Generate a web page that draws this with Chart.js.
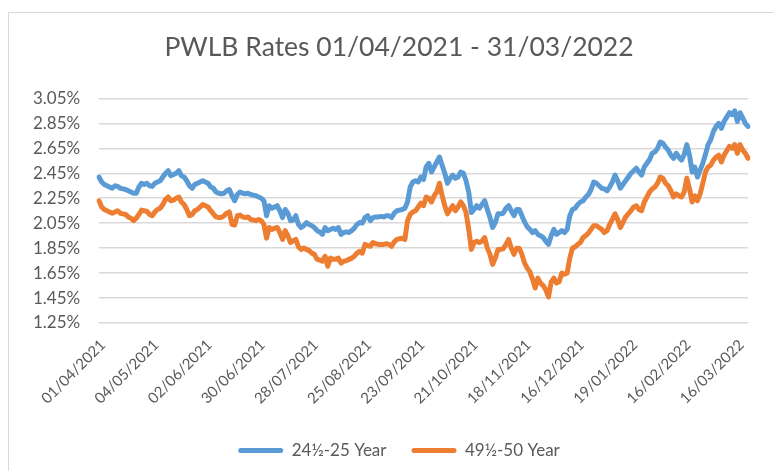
<!DOCTYPE html>
<html>
<head>
<meta charset="utf-8">
<script src="https://cdn.jsdelivr.net/npm/chart.js@4.4.1/dist/chart.umd.min.js"></script>
<style>
  html, body { margin: 0; padding: 0; background: #ffffff; }
  #wrap { position: relative; width: 774px; height: 471px; overflow: hidden; font-family: Lato; }
  #frame { position: absolute; left: 8px; top: 12px; width: 800px; height: 500px; border: 1.5px solid #d9d9d9; box-sizing: border-box; }
  #c { position: absolute; left: 0; top: 0; }
</style>
</head>
<body>
<div id="wrap">
  <div id="frame"></div>
  <canvas id="c" width="774" height="471"></canvas>
</div>
<script>
const chartTitle = 'PWLB Rates 01/04/2021 - 31/03/2022';
const seriesNames = ['24½-25 Year', '49½-50 Year'];
const tickLabels = ['01/04/2021','04/05/2021','02/06/2021','30/06/2021','28/07/2021','25/08/2021','23/09/2021','21/10/2021','18/11/2021','16/12/2021','19/01/2022','16/02/2022','16/03/2022'];
const tickEvery = 20;
const yTicks = [1.25, 1.45, 1.65, 1.85, 2.05, 2.25, 2.45, 2.65, 2.85, 3.05];

const rates25 = [
2.42,2.38,2.36,2.35,2.34,2.33,2.35,2.345,2.33,2.325,
2.32,2.31,2.30,2.29,2.29,2.34,2.37,2.36,2.37,2.35,
2.345,2.37,2.38,2.39,2.42,2.45,2.47,2.43,2.44,2.45,
2.47,2.43,2.42,2.39,2.35,2.33,2.36,2.37,2.38,2.39,
2.38,2.37,2.34,2.33,2.30,2.29,2.285,2.29,2.31,2.32,
2.27,2.23,2.28,2.30,2.29,2.285,2.29,2.28,2.275,2.27,
2.26,2.25,2.23,2.11,2.19,2.17,2.18,2.19,2.15,2.095,
2.16,2.13,2.07,2.075,2.11,2.04,2.015,2.03,2.055,2.04,
2.03,2.015,1.99,1.98,1.96,2.015,1.99,2.00,2.01,2.00,
2.015,1.96,1.975,1.98,1.975,1.99,2.01,2.04,2.055,2.05,
2.095,2.11,2.07,2.095,2.10,2.10,2.105,2.10,2.11,2.11,
2.095,2.13,2.15,2.155,2.16,2.17,2.22,2.34,2.38,2.39,
2.38,2.42,2.40,2.50,2.53,2.46,2.50,2.54,2.58,2.515,
2.45,2.37,2.41,2.435,2.41,2.42,2.46,2.45,2.39,2.30,
2.135,2.16,2.19,2.17,2.20,2.23,2.16,2.095,2.015,2.055,
2.125,2.125,2.13,2.17,2.19,2.15,2.11,2.16,2.16,2.11,
2.06,2.02,2.00,1.975,1.99,1.96,1.95,1.935,1.905,1.88,
1.95,2.00,1.96,1.975,1.99,1.975,2.00,2.11,2.16,2.17,
2.20,2.22,2.23,2.26,2.28,2.32,2.38,2.37,2.35,2.33,
2.325,2.31,2.34,2.38,2.435,2.39,2.33,2.36,2.39,2.42,
2.45,2.47,2.49,2.46,2.435,2.50,2.53,2.56,2.61,2.62,
2.65,2.70,2.69,2.66,2.635,2.595,2.57,2.61,2.58,2.555,
2.60,2.68,2.595,2.46,2.50,2.42,2.475,2.53,2.60,2.68,
2.72,2.785,2.825,2.85,2.81,2.865,2.90,2.935,2.92,2.95,
2.865,2.935,2.895,2.85,2.825
];

const rates50 = [
2.23,2.18,2.16,2.15,2.14,2.13,2.14,2.15,2.13,2.125,
2.12,2.10,2.09,2.07,2.09,2.12,2.155,2.15,2.145,2.12,
2.11,2.14,2.16,2.17,2.20,2.24,2.26,2.23,2.235,2.25,
2.26,2.22,2.20,2.16,2.11,2.12,2.15,2.16,2.18,2.20,
2.19,2.18,2.15,2.125,2.10,2.095,2.095,2.11,2.13,2.14,
2.04,2.035,2.11,2.115,2.10,2.095,2.10,2.08,2.075,2.07,
2.08,2.07,2.04,1.93,2.015,2.00,2.01,2.015,1.975,1.92,
1.99,1.95,1.895,1.91,1.92,1.86,1.84,1.85,1.84,1.83,
1.81,1.80,1.76,1.755,1.745,1.785,1.705,1.77,1.76,1.76,
1.77,1.73,1.745,1.75,1.76,1.77,1.785,1.81,1.825,1.81,
1.88,1.87,1.865,1.895,1.885,1.88,1.88,1.88,1.885,1.88,
1.865,1.90,1.92,1.925,1.93,1.92,2.07,2.12,2.14,2.15,
2.18,2.21,2.19,2.26,2.25,2.22,2.27,2.30,2.37,2.27,
2.19,2.125,2.16,2.19,2.15,2.18,2.22,2.19,2.135,2.00,
1.84,1.895,1.905,1.895,1.905,1.935,1.85,1.80,1.72,1.77,
1.84,1.84,1.845,1.88,1.92,1.85,1.80,1.85,1.85,1.80,
1.73,1.69,1.66,1.60,1.53,1.61,1.57,1.55,1.515,1.46,
1.58,1.61,1.57,1.58,1.65,1.64,1.65,1.77,1.85,1.86,
1.88,1.895,1.935,1.95,1.97,2.00,2.03,2.03,2.015,2.00,
1.975,1.99,2.04,2.08,2.125,2.08,2.015,2.055,2.10,2.125,
2.15,2.18,2.19,2.16,2.15,2.22,2.26,2.30,2.325,2.34,
2.37,2.42,2.41,2.37,2.35,2.31,2.26,2.285,2.27,2.26,
2.30,2.41,2.325,2.22,2.27,2.23,2.285,2.37,2.46,2.50,
2.515,2.555,2.58,2.595,2.54,2.595,2.63,2.665,2.65,2.68,
2.61,2.68,2.635,2.61,2.57
];

const categories = rates25.map((v, i) => (i % tickEvery === 0 && tickLabels[i / tickEvery]) ? tickLabels[i / tickEvery] : '');

const FONT = 'Lato';
const GREY = '#595959';

function draw() {
  new Chart(document.getElementById('c'), {
    type: 'line',
    data: {
      labels: categories,
      datasets: [
        { label: seriesNames[0], data: rates25, borderColor: '#5B9BD5', backgroundColor: '#5B9BD5', borderWidth: 5, pointRadius: 0, tension: 0, borderJoinStyle: 'round', borderCapStyle: 'round' },
        { label: seriesNames[1], data: rates50, borderColor: '#ED7D31', backgroundColor: '#ED7D31', borderWidth: 5, pointRadius: 0, tension: 0, borderJoinStyle: 'round', borderCapStyle: 'round' }
      ]
    },
    options: {
      responsive: false,
      animation: false,
      events: [],
      layout: { padding: { left: 50, right: 26, top: 0, bottom: 2 } },
      plugins: {
        title: {
          display: true, text: chartTitle, color: GREY,
          font: { family: FONT, size: 26.5, weight: 'normal' },
          padding: { top: 32, bottom: 34.6 }
        },
        legend: {
          display: true, position: 'bottom',
          labels: {
            color: GREY, font: { family: FONT, size: 17 },
            boxWidth: 45, boxHeight: 5, padding: 25,
            useBorderRadius: true, borderRadius: 2.5,
            generateLabels: (chart) => Chart.defaults.plugins.legend.labels.generateLabels(chart).map(l => Object.assign(l, { lineWidth: 0 }))
          }
        },
        tooltip: { enabled: false }
      },
      scales: {
        x: {
          type: 'category',
          offset: false,
          grid: { display: false, drawTicks: false },
          border: { display: false },
          ticks: {
            autoSkip: false, maxRotation: 45, minRotation: 45,
            color: GREY, font: { family: FONT, size: 15 }, padding: 13, labelOffset: 4,
            callback: function(v, i) { return categories[i]; }
          },
          afterFit: (s) => { s.height = 94; }
        },
        y: {
          min: yTicks[0], max: yTicks[yTicks.length - 1],
          afterBuildTicks: (s) => { s.ticks = yTicks.map(v => ({ value: v })); },
          grid: { color: '#d9d9d9', lineWidth: 1.5, drawTicks: false },
          border: { display: false },
          ticks: {
            mirror: true,
            color: GREY, font: { family: FONT, size: 17 }, padding: -66,
            callback: (v) => Number(v).toFixed(2) + '%'
          },
          afterFit: (s) => { s.width = 49; }
        }
      }
    }
  });
}

if (document.fonts && document.fonts.load) {
  Promise.all([
    document.fonts.load('15px Lato'),
    document.fonts.load('17px Lato'),
    document.fonts.load('26.5px Lato')
  ]).then(draw, draw);
} else {
  draw();
}
</script>
</body>
</html>
